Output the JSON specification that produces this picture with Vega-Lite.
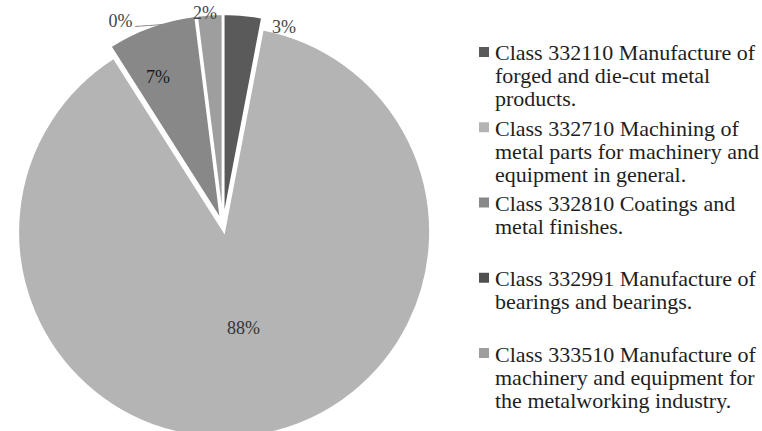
{
  "$schema": "https://vega.github.io/schema/vega-lite/v6.json",
  "padding": 0,
  "background": "white",
  "config": {"view": {"stroke": null}, "concat": {"spacing": 0}},
  "datasets": {
    "classes": [
      {"cls": "332110", "share": 0.03, "label": "Class 332110 Manufacture of\nforged and die-cut metal\nproducts."},
      {"cls": "332710", "share": 0.88, "label": "Class 332710 Machining of\nmetal parts for machinery and\nequipment in general."},
      {"cls": "332810", "share": 0.07, "label": "Class 332810 Coatings and\nmetal finishes."},
      {"cls": "332991", "share": 0.0, "label": "\u00a0Class 332991 Manufacture of\nbearings and bearings."},
      {"cls": "333510", "share": 0.02, "label": "Class 333510 Manufacture of\nmachinery and equipment for\nthe metalworking industry."}
    ]
  },
  "hconcat": [
    {
      "width": 446,
      "height": 452,
      "data": {"name": "classes"},
      "transform": [
        {"stack": "share", "groupby": [], "sort": [{"field": "cls", "order": "ascending"}], "as": ["s0", "s1"]}
      ],
      "layer": [
        {
          "transform": [{"filter": "datum.cls === '332110'"}],
          "mark": {"type": "arc", "radius": 206, "stroke": "white", "strokeWidth": 2, "xOffset": 0.56, "yOffset": -5.97},
          "encoding": {
            "theta": {"field": "s0", "type": "quantitative", "scale": {"domain": [0, 1]}},
            "theta2": {"field": "s1"},
            "color": {"field": "cls", "type": "nominal", "legend": null,
              "scale": {"domain": ["332110", "332710", "332810", "332991", "333510"], "range": ["#5a5a5a", "#b4b4b4", "#888888", "#505050", "#9e9e9e"]}}
          }
        },
        {
          "transform": [{"filter": "datum.cls === '332710'"}],
          "mark": {"type": "arc", "radius": 206, "stroke": "white", "strokeWidth": 2, "xOffset": 1.12, "yOffset": 5.89},
          "encoding": {
            "theta": {"field": "s0", "type": "quantitative", "scale": {"domain": [0, 1]}},
            "theta2": {"field": "s1"},
            "color": {"field": "cls", "type": "nominal", "legend": null,
              "scale": {"domain": ["332110", "332710", "332810", "332991", "333510"], "range": ["#5a5a5a", "#b4b4b4", "#888888", "#505050", "#9e9e9e"]}}
          }
        },
        {
          "transform": [{"filter": "datum.cls === '332810'"}],
          "mark": {"type": "arc", "radius": 206, "stroke": "white", "strokeWidth": 2, "xOffset": -2.03, "yOffset": -5.65},
          "encoding": {
            "theta": {"field": "s0", "type": "quantitative", "scale": {"domain": [0, 1]}},
            "theta2": {"field": "s1"},
            "color": {"field": "cls", "type": "nominal", "legend": null,
              "scale": {"domain": ["332110", "332710", "332810", "332991", "333510"], "range": ["#5a5a5a", "#b4b4b4", "#888888", "#505050", "#9e9e9e"]}}
          }
        },
        {
          "transform": [{"filter": "datum.cls === '332991'"}],
          "mark": {"type": "arc", "radius": 206, "stroke": "white", "strokeWidth": 2, "xOffset": -0.75, "yOffset": -5.95},
          "encoding": {
            "theta": {"field": "s0", "type": "quantitative", "scale": {"domain": [0, 1]}},
            "theta2": {"field": "s1"},
            "color": {"field": "cls", "type": "nominal", "legend": null,
              "scale": {"domain": ["332110", "332710", "332810", "332991", "333510"], "range": ["#5a5a5a", "#b4b4b4", "#888888", "#505050", "#9e9e9e"]}}
          }
        },
        {
          "transform": [{"filter": "datum.cls === '333510'"}],
          "mark": {"type": "arc", "radius": 206, "stroke": "white", "strokeWidth": 2, "xOffset": -0.38, "yOffset": -5.99},
          "encoding": {
            "theta": {"field": "s0", "type": "quantitative", "scale": {"domain": [0, 1]}},
            "theta2": {"field": "s1"},
            "color": {"field": "cls", "type": "nominal", "legend": null,
              "scale": {"domain": ["332110", "332710", "332810", "332991", "333510"], "range": ["#5a5a5a", "#b4b4b4", "#888888", "#505050", "#9e9e9e"]}}
          }
        },
        {
          "transform": [{"filter": "datum.cls === '332110'"}],
          "mark": {"type": "text", "radius": 207, "thetaOffset": 0.2985, "font": "Liberation Serif", "fontSize": 18, "fill": "#444444", "align": "center", "baseline": "middle"},
          "encoding": {
            "theta": {"field": "s0", "type": "quantitative", "scale": {"domain": [0, 1]}},
            "text": {"field": "share", "type": "quantitative", "format": ".0%"}
          }
        },
        {
          "transform": [{"filter": "datum.cls === '332710'"}],
          "mark": {"type": "text", "radius": 105, "thetaOffset": 2.756, "font": "Liberation Serif", "fontSize": 18, "fill": "#333333", "align": "center", "baseline": "middle"},
          "encoding": {
            "theta": {"field": "s0", "type": "quantitative", "scale": {"domain": [0, 1]}},
            "text": {"field": "share", "type": "quantitative", "format": ".0%"}
          }
        },
        {
          "transform": [{"filter": "datum.cls === '332810'"}],
          "mark": {"type": "text", "radius": 162, "thetaOffset": 0.1518, "font": "Liberation Serif", "fontSize": 18, "fill": "#1a1a1a", "align": "center", "baseline": "middle"},
          "encoding": {
            "theta": {"field": "s0", "type": "quantitative", "scale": {"domain": [0, 1]}},
            "text": {"field": "share", "type": "quantitative", "format": ".0%"}
          }
        },
        {
          "transform": [{"filter": "datum.cls === '332991'"}],
          "mark": {"type": "text", "radius": 228, "thetaOffset": -0.3403, "font": "Liberation Serif", "fontSize": 18, "fill": "#444444", "align": "center", "baseline": "middle"},
          "encoding": {
            "theta": {"field": "s0", "type": "quantitative", "scale": {"domain": [0, 1]}},
            "text": {"field": "share", "type": "quantitative", "format": ".0%"}
          }
        },
        {
          "transform": [{"filter": "datum.cls === '332991'"}],
          "mark": {"type": "text", "text": "────────", "radius": 210, "thetaOffset": -0.1588, "angle": -4, "font": "DejaVu Sans", "fontSize": 12, "fill": "#8a8a8a", "align": "center", "baseline": "middle"},
          "encoding": {
            "theta": {"field": "s0", "type": "quantitative", "scale": {"domain": [0, 1]}}
          }
        },
        {
          "transform": [{"filter": "datum.cls === '333510'"}],
          "mark": {"type": "text", "radius": 213, "thetaOffset": 0.041, "font": "Liberation Serif", "fontSize": 18, "fill": "#444444", "align": "center", "baseline": "middle"},
          "encoding": {
            "theta": {"field": "s0", "type": "quantitative", "scale": {"domain": [0, 1]}},
            "text": {"field": "share", "type": "quantitative", "format": ".0%"}
          }
        }
      ]
    },
    {
      "width": 76,
      "height": 405,
      "data": {"name": "classes"},
      "encoding": {
        "y": {"field": "cls", "type": "nominal", "scale": {"type": "point", "padding": 0.691}, "axis": null}
      },
      "layer": [
        {
          "mark": {"type": "square", "size": 100, "opacity": 1},
          "encoding": {
            "color": {"field": "cls", "type": "nominal", "legend": null,
              "scale": {"domain": ["332110", "332710", "332810", "332991", "333510"], "range": ["#5a5a5a", "#b4b4b4", "#888888", "#505050", "#9e9e9e"]}}
          }
        },
        {
          "mark": {"type": "text", "align": "left", "baseline": "top", "dx": 11, "dy": -8.5, "lineBreak": "\n", "lineHeight": 23, "font": "Liberation Serif", "fontSize": 22, "fill": "#1e1e1e"},
          "encoding": {"text": {"field": "label", "type": "nominal"}}
        }
      ]
    }
  ]
}
